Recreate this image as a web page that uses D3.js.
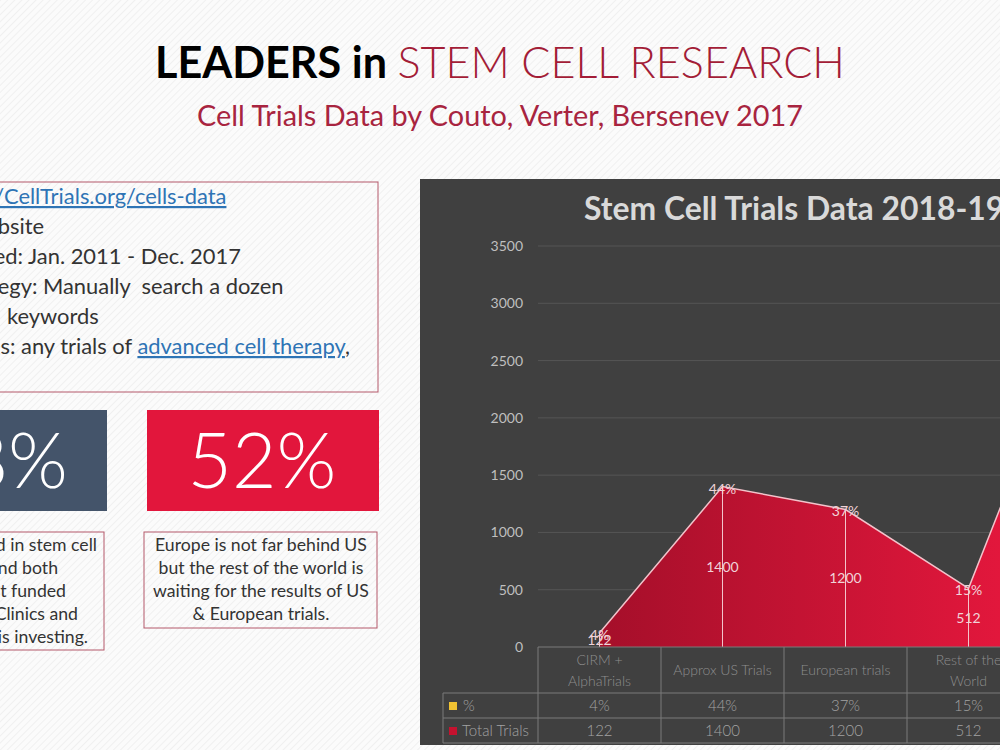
<!DOCTYPE html>
<html><head><meta charset="utf-8">
<script src="https://cdn.jsdelivr.net/npm/d3@7"></script>
<style>body{margin:0;overflow:hidden;background:#f8f8f8}</style>
</head><body>
<svg id="s" width="1000" height="750"></svg>
<script>
// ---- data ----
const categories = ["CIRM + AlphaTrials", "Approx US Trials", "European trials", "Rest of the World", "Total"];
const headerLines = [["CIRM +", "AlphaTrials"], ["Approx US Trials"], ["European trials"], ["Rest of the", "World"], ["Total"]];
const totalTrials = [122, 1400, 1200, 512, 3234];
const pctValues = [4, 44, 37, 15, 100];
const pctLabels = ["4%", "44%", "37%", "15%", "100%"];
const yTicks = [0, 500, 1000, 1500, 2000, 2500, 3000, 3500];
const seriesNames = ["%", "Total Trials"];

const FONT = "Lato, 'Open Sans', sans-serif";
const svg = d3.select("#s");
const defs = svg.append("defs");

// background texture
const pat = defs.append("pattern").attr("id", "bgp").attr("width", 5).attr("height", 5)
  .attr("patternUnits", "userSpaceOnUse").attr("patternTransform", "rotate(45)");
pat.append("rect").attr("width", 5).attr("height", 5).attr("fill", "#fbfbfb");
pat.append("line").attr("x1", 0).attr("y1", 0).attr("x2", 0).attr("y2", 5).attr("stroke", "#f0f0f0").attr("stroke-width", 2);
svg.append("rect").attr("width", 1000).attr("height", 750).attr("fill", "url(#bgp)");

function fitWidth(sel, target, node) {
  const n = node || sel.node();
  const w = n.getComputedTextLength();
  const fs = parseFloat(sel.attr("font-size"));
  sel.attr("font-size", fs * target / w);
}

// ---- slide title ----
const t1 = svg.append("text").attr("x", 500).attr("y", 78).attr("text-anchor", "middle")
  .attr("font-family", FONT).attr("font-size", 44);
t1.append("tspan").attr("font-weight", 700).attr("fill", "#000").text("LEADERS in ");
t1.append("tspan").attr("fill", "#a31d37").attr("font-weight", 300).text("STEM CELL RESEARCH");
fitWidth(t1, 690);

const t2 = svg.append("text").attr("x", 500).attr("y", 126).attr("text-anchor", "middle")
  .attr("font-family", FONT).attr("font-size", 26).attr("fill", "#a8243f")
  .text("Cell Trials Data by Couto, Verter, Bersenev 2017");
fitWidth(t2, 606);

// ---- info box ----
svg.append("rect").attr("x", -10).attr("y", 182).attr("width", 388).attr("height", 210)
  .attr("fill", "none").attr("stroke", "#b4596a").attr("stroke-width", 1);

const infoLines = [
  {segs: [["Data: ", false], ["https://CellTrials.org/cells-data", true]], anchor: "CellTrials", ax: 4, y: 204},
  {segs: [["Source: Website", false]], anchor: "site", ax: 10, y: 234},
  {segs: [["Dates searched: Jan. 2011 - Dec. 2017", false]], anchor: "Jan.", ax: 28, y: 264},
  {segs: [["Search strategy: Manually  search a dozen", false]], anchor: "Manually", ax: 43, y: 294},
  {segs: [["registries by   keywords", false]], anchor: "keywords", ax: 7, y: 324},
  {segs: [["Inclusions: any trials of ", false], ["advanced cell therapy", true], [",", false]], anchor: "any", ax: 21, y: 354}
];
const probe = svg.append("text").attr("font-family", FONT).attr("font-size", 20).text("Jan. 2011 - Dec. 2017");
fitWidth(probe, 213);
const infoFS = parseFloat(probe.attr("font-size"));
probe.remove();

infoLines.forEach(L => {
  const full = L.segs.map(s => s[0]).join("");
  const t = svg.append("text").attr("y", L.y).attr("x", 0).attr("font-family", FONT)
    .attr("font-size", infoFS).attr("fill", "#333").attr("xml:space", "preserve");
  L.segs.forEach(s => {
    const sp = t.append("tspan").text(s[0]);
    if (s[1]) sp.attr("fill", "#2e74b5").attr("text-decoration", "underline");
  });
  const idx = full.indexOf(L.anchor);
  const off = idx > 0 ? t.node().getSubStringLength(0, idx) : 0;
  t.attr("x", L.ax - off);
});

// ---- stat boxes ----
svg.append("rect").attr("x", -10).attr("y", 410).attr("width", 117).attr("height", 101).attr("fill", "#44546a");
svg.append("rect").attr("x", 147).attr("y", 410).attr("width", 232).attr("height", 101).attr("fill", "#e2163c");

const s2 = svg.append("text").attr("x", 262).attr("y", 488).attr("text-anchor", "middle")
  .attr("font-family", FONT).attr("font-weight", 300).attr("font-size", 74).attr("fill", "#fff").text("52%");
fitWidth(s2, 149);
const s1 = svg.append("text").attr("x", 0).attr("y", 488)
  .attr("font-family", FONT).attr("font-weight", 300).attr("font-size", s2.attr("font-size")).attr("fill", "#fff").text("48%");
{
  const off = s1.node().getSubStringLength(0, 2);
  s1.attr("x", 8 - off);
}

// ---- caption boxes ----
svg.append("rect").attr("x", -10).attr("y", 532).attr("width", 114).attr("height", 118)
  .attr("fill", "none").attr("stroke", "#b4596a");
svg.append("rect").attr("x", 144).attr("y", 532).attr("width", 233).attr("height", 96)
  .attr("fill", "none").attr("stroke", "#b4596a");

const capProbe = svg.append("text").attr("font-family", FONT).attr("font-size", 16).text("Europe is not far behind US");
fitWidth(capProbe, 212);
const capFS = parseFloat(capProbe.attr("font-size"));
capProbe.remove();

const leftCap = [
  ["US is far ahead in stem cell", 97],
  ["research and both", 58],
  ["government  funded", 66],
  ["Clinics and", 78],
  ["industry is investing.", 88]
];
leftCap.forEach((d, i) => {
  svg.append("text").attr("x", d[1]).attr("y", 551 + i * 23).attr("text-anchor", "end")
    .attr("font-family", FONT).attr("font-size", capFS).attr("fill", "#333").text(d[0]);
});
const rightCap = ["Europe is not far behind US", "but the rest of the world is", "waiting for the results of US", "& European trials."];
rightCap.forEach((d, i) => {
  svg.append("text").attr("x", 261).attr("y", 551 + i * 23).attr("text-anchor", "middle")
    .attr("font-family", FONT).attr("font-size", capFS).attr("fill", "#333").text(d);
});

// ---- chart panel ----
const chart = svg.append("g");
chart.append("rect").attr("x", 420).attr("y", 179).attr("width", 800).attr("height", 566).attr("fill", "#404040");

const ct = chart.append("text").attr("x", 584).attr("y", 220).attr("font-family", FONT)
  .attr("font-weight", 700).attr("font-size", 28).attr("fill", "#d9d9d9").text("Stem Cell Trials Data 2018-19");
{
  const w = ct.node().getSubStringLength(0, "Stem Cell Trials Data 2018-1".length);
  ct.attr("font-size", 28 * 402 / w);
}

const x = d3.scaleBand().domain(categories).range([538, 538 + 123 * categories.length]).padding(0);
const y = d3.scaleLinear().domain([0, 3500]).range([647, 246]);
const cx = d => x(d) + x.bandwidth() / 2;

// gridlines + y axis
const yAxis = d3.axisLeft(y).tickValues(yTicks).tickSize(0).tickPadding(0).tickFormat(d3.format("d"));
const ya = chart.append("g").attr("transform", "translate(523,0)").call(yAxis);
ya.select(".domain").remove();
ya.selectAll("text").attr("font-family", FONT).attr("font-size", 14).attr("fill", "#bfbfbf");
chart.append("g").selectAll("line").data(yTicks.filter(v => v > 0)).join("line")
  .attr("x1", 538).attr("x2", 1200).attr("y1", d => y(d)).attr("y2", d => y(d))
  .attr("stroke", "#555").attr("stroke-width", 1);

// area
const grad = defs.append("linearGradient").attr("id", "ag").attr("gradientUnits", "userSpaceOnUse")
  .attr("x1", 600).attr("y1", 0).attr("x2", 1000).attr("y2", 0);
grad.append("stop").attr("offset", 0).attr("stop-color", "#a50f2a");
grad.append("stop").attr("offset", 1).attr("stop-color", "#e2173c");

const pts = categories.map((c, i) => ({c, v: totalTrials[i], p: pctLabels[i]}));
const area = d3.area().x(d => cx(d.c)).y0(y(0)).y1(d => y(d.v));
const line = d3.line().x(d => cx(d.c)).y(d => y(d.v));
chart.append("path").datum(pts).attr("d", area).attr("fill", "url(#ag)");
chart.append("path").datum(pts).attr("d", line).attr("fill", "none").attr("stroke", "#f3c3cb").attr("stroke-width", 1.5);
chart.append("g").selectAll("line").data(pts).join("line")
  .attr("x1", d => cx(d.c)).attr("x2", d => cx(d.c)).attr("y1", d => y(d.v)).attr("y2", y(0))
  .attr("stroke", "#f3c3cb").attr("stroke-width", 1);

// data labels
chart.append("g").selectAll("text").data(pts).join("text")
  .attr("x", d => cx(d.c)).attr("y", d => y(d.v / 2)).attr("dy", "0.35em").attr("text-anchor", "middle")
  .attr("font-family", FONT).attr("font-size", 14).attr("fill", "#f0d3d8").text(d => d.v);
chart.append("g").selectAll("text").data(pts).join("text")
  .attr("x", d => cx(d.c)).attr("y", d => y(d.v) + 2).attr("dy", "0.35em").attr("text-anchor", "middle")
  .attr("font-family", FONT).attr("font-size", 14).attr("fill", "#f0d3d8").text(d => d.p);

// data table
const tg = chart.append("g");
const tStroke = "#7a7a7a";
const rowY = [647, 693, 718, 743];
const xEnd = 538 + 123 * categories.length;
tg.append("line").attr("x1", 538).attr("x2", xEnd).attr("y1", rowY[0]).attr("y2", rowY[0]).attr("stroke", tStroke);
[1, 2, 3].forEach(i => tg.append("line").attr("x1", 443).attr("x2", xEnd).attr("y1", rowY[i]).attr("y2", rowY[i]).attr("stroke", tStroke));
tg.append("line").attr("x1", 443).attr("x2", 443).attr("y1", rowY[1]).attr("y2", rowY[3]).attr("stroke", tStroke);
categories.forEach(c => {
  tg.append("line").attr("x1", x(c)).attr("x2", x(c)).attr("y1", rowY[0]).attr("y2", rowY[3]).attr("stroke", tStroke);
});
tg.append("line").attr("x1", xEnd).attr("x2", xEnd).attr("y1", rowY[0]).attr("y2", rowY[3]).attr("stroke", tStroke);

categories.forEach((c, i) => {
  const lines = headerLines[i];
  const h = tg.append("text").attr("text-anchor", "middle").attr("font-family", FONT)
    .attr("font-size", 14).attr("font-weight", 300).attr("fill", "#8e8e8e");
  const y0 = lines.length === 1 ? 675 : 665;
  lines.forEach((l, j) => h.append("tspan").attr("x", cx(c)).attr("y", y0 + j * 21).text(l));
  tg.append("text").attr("x", cx(c)).attr("y", 711).attr("text-anchor", "middle").attr("font-family", FONT)
    .attr("font-size", 15).attr("font-weight", 300).attr("fill", "#a3a3a3").text(pctLabels[i]);
  tg.append("text").attr("x", cx(c)).attr("y", 736).attr("text-anchor", "middle").attr("font-family", FONT)
    .attr("font-size", 15).attr("font-weight", 300).attr("fill", "#a3a3a3").text(totalTrials[i]);
});
// legend keys
tg.append("rect").attr("x", 449).attr("y", 702).attr("width", 8).attr("height", 8).attr("fill", "#f0c232");
tg.append("rect").attr("x", 449).attr("y", 727).attr("width", 8).attr("height", 8).attr("fill", "#c5122f");
tg.append("text").attr("x", 463).attr("y", 711).attr("font-family", FONT).attr("font-size", 15).attr("font-weight", 300).attr("fill", "#a3a3a3").text(seriesNames[0]);
tg.append("text").attr("x", 462).attr("y", 736).attr("font-family", FONT).attr("font-size", 15).attr("font-weight", 300).attr("fill", "#a3a3a3").text(seriesNames[1]);
</script>
</body></html>
